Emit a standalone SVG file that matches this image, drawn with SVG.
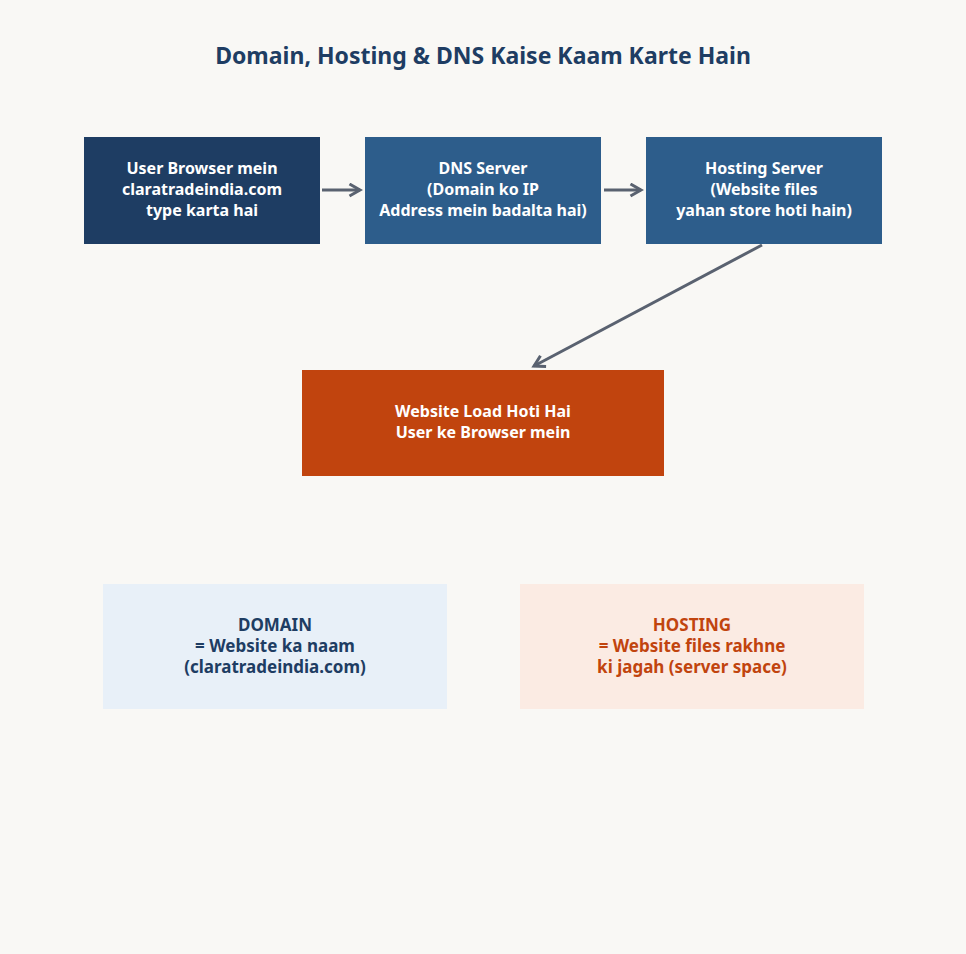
<svg xmlns="http://www.w3.org/2000/svg" width="966" height="954" viewBox="0 0 966 954">
<defs>
<style>
text{font-family:"Noto Sans","Open Sans","DejaVu Sans",sans-serif;font-weight:bold;text-anchor:middle;dominant-baseline:middle}
.w{fill:#fff;font-size:16px}
.c{stroke:#5a6270;stroke-width:3;fill:none;marker-end:url(#a)}
</style>
<marker id="a" viewBox="0 0 10 10" refX="8" refY="5" markerWidth="5" markerHeight="5" orient="auto"><path d="M1,1 L8,5 L1,9" fill="none" stroke="#5a6270" stroke-width="2"/></marker>
</defs>
<rect width="966" height="954" fill="#f9f8f5"/>
<text x="483" y="58" font-size="23" fill="#1e3d63">Domain, Hosting &amp; DNS Kaise Kaam Karte Hain</text>
<g id="connectors">
<line class="c" x1="322" y1="190" x2="360" y2="190"/>
<line class="c" x1="604" y1="190" x2="641" y2="190"/>
<line class="c" x1="762" y1="245" x2="534" y2="366"/>
</g>
<g id="n1"><rect x="84" y="137" width="236" height="107" fill="#1e3d63"/>
<text class="w" x="202" y="170">User Browser mein</text><text class="w" x="202" y="191">claratradeindia.com</text><text class="w" x="202" y="212">type karta hai</text></g>
<g id="n2"><rect x="365" y="137" width="236" height="107" fill="#2d5d8b"/>
<text class="w" x="483" y="170">DNS Server</text><text class="w" x="483" y="191">(Domain ko IP</text><text class="w" x="483" y="212">Address mein badalta hai)</text></g>
<g id="n3"><rect x="646" y="137" width="236" height="107" fill="#2d5d8b"/>
<text class="w" x="764" y="170">Hosting Server</text><text class="w" x="764" y="191">(Website files</text><text class="w" x="764" y="212">yahan store hoti hain)</text></g>
<g id="n4"><rect x="302" y="370" width="362" height="106" fill="#c1440e"/>
<text class="w" x="483" y="413" font-size="18">Website Load Hoti Hai</text><text class="w" x="483" y="434" font-size="18">User ke Browser mein</text></g>
<g id="n5"><rect x="103" y="584" width="344" height="125" fill="#e8f0f8"/>
<g fill="#1e3d63" font-size="17"><text x="275" y="626">DOMAIN</text><text x="275" y="647">= Website ka naam</text><text x="275" y="668">(claratradeindia.com)</text></g></g>
<g id="n6"><rect x="520" y="584" width="344" height="125" fill="#fbebe3"/>
<g fill="#c1440e" font-size="17"><text x="692" y="626">HOSTING</text><text x="692" y="647">= Website files rakhne</text><text x="692" y="668">ki jagah (server space)</text></g></g>
</svg>
